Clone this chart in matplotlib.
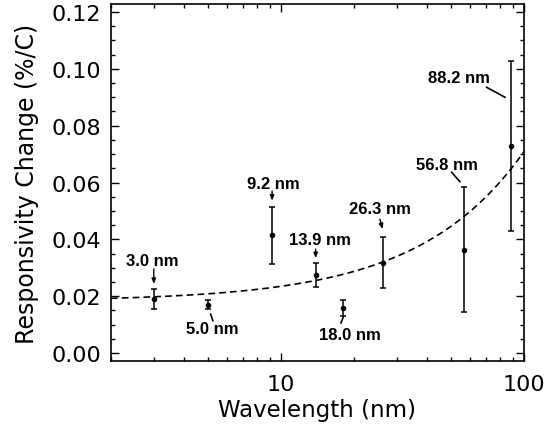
import numpy as np
import matplotlib
matplotlib.use('Agg')
import matplotlib.pyplot as plt
from matplotlib.ticker import FixedLocator, MultipleLocator, NullFormatter

# measured responsivity change vs wavelength
wavelength = [3.0, 5.0, 9.2, 13.9, 18.0, 26.3, 56.8, 88.2]
change = [0.019, 0.017, 0.0415, 0.0275, 0.0159, 0.0318, 0.0363, 0.0728]
err = [0.0036, 0.0015, 0.0100, 0.0042, 0.0028, 0.0090, 0.0220, 0.0300]
labels = ['3.0 nm', '5.0 nm', '9.2 nm', '13.9 nm', '18.0 nm', '26.3 nm', '56.8 nm', '88.2 nm']

# label layout: text centre, then line start/end (data coords), arrow head or not
label_pos = [(2.97, 0.0327), (5.20, 0.0088), (9.30, 0.0595), (14.44, 0.0401),
             (19.2, 0.0067), (25.6, 0.0510), (48.1, 0.0665), (53.9, 0.0970)]
line_from = [(3.0, 0.0296), (5.14, 0.0137), (9.2, 0.0570), (13.9, 0.0366),
             (18.05, 0.0126), (25.55, 0.0471), (50.4, 0.0636), (70.2, 0.0935)]
line_to = [(3.0, 0.0243), (5.25, 0.0114), (9.2, 0.0536), (13.9, 0.0334),
           (17.66, 0.0106), (26.2, 0.0436), (54.5, 0.0603), (83.5, 0.0900)]
has_head = [True, False, True, True, False, True, False, False]

fig = plt.figure(figsize=(5.5, 4.31), dpi=100)
ax = fig.add_axes([0.2018, 0.160, 0.7509, 0.8284])

ax.errorbar(wavelength, change, yerr=err, fmt='o', color='black', ms=3,
            elinewidth=1.1, capsize=2.2, capthick=1.1)

# straight-line fit to the points, shown on the log axis
slope, icpt = np.polyfit(wavelength, change, 1)
xx = np.geomspace(2, 100, 300)
ax.plot(xx, icpt + slope * xx, color='black', lw=1.2, dashes=(4, 2.5))

for i in range(len(labels)):
    ax.text(label_pos[i][0], label_pos[i][1], labels[i], ha='center', va='center',
            fontsize=12, fontweight='bold', family=['Liberation Sans', 'DejaVu Sans'])
    if has_head[i]:
        ax.annotate('', xy=line_to[i], xytext=line_from[i],
                    arrowprops=dict(arrowstyle='-|>,head_length=0.3,head_width=0.12',
                                    color='black', lw=1.0, shrinkA=0, shrinkB=0))
    else:
        ax.plot([line_from[i][0], line_to[i][0]], [line_from[i][1], line_to[i][1]],
                color='black', lw=1.2)

ax.set_xscale('log')
ax.set_xlim(2, 100)
ax.set_ylim(-0.0028, 0.1228)
ax.xaxis.set_major_locator(FixedLocator([10, 100]))
ax.xaxis.set_minor_locator(FixedLocator([2, 3, 4, 5, 6, 7, 8, 9, 20, 30, 40, 50, 60, 70, 80, 90]))
ax.xaxis.set_minor_formatter(NullFormatter())
ax.set_xticklabels(['10', '100'])
ax.yaxis.set_major_locator(MultipleLocator(0.02))
ax.yaxis.set_minor_locator(MultipleLocator(0.005))
ax.set_yticks([0, 0.02, 0.04, 0.06, 0.08, 0.10, 0.12])
ax.set_yticklabels(['0.00', '0.02', '0.04', '0.06', '0.08', '0.10', '0.12'])

ax.tick_params(which='both', direction='in', top=True, right=True, width=1.0,
               labelsize=16)
ax.tick_params(which='major', length=6)
ax.tick_params(which='minor', length=3)
ax.tick_params(axis='y', pad=7)
ax.tick_params(axis='x', pad=9)
for sp in ax.spines.values():
    sp.set_linewidth(1.2)

ax.set_xlabel('Wavelength (nm)', fontsize=16.5, labelpad=3)
ax.set_ylabel('Responsivity Change (%/C)', fontsize=17, labelpad=9)

fig.savefig('out.png', dpi=100)
